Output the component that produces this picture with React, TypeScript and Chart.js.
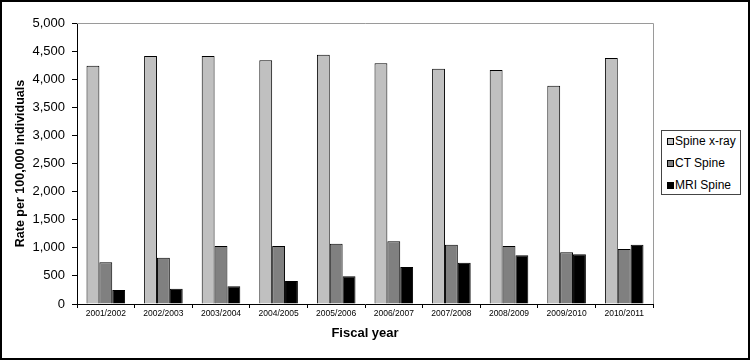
import React, { useEffect, useRef } from "react";
import { Chart, registerables } from "chart.js";

Chart.register(...registerables);

const categories = [
  "2001/2002", "2002/2003", "2003/2004", "2004/2005", "2005/2006",
  "2006/2007", "2007/2008", "2008/2009", "2009/2010", "2010/2011",
];
const spineXray = [4240, 4413, 4413, 4336, 4436, 4283, 4187, 4164, 3885, 4377];
const ctSpine = [742, 824, 1032, 1032, 1073, 1115, 1055, 1032, 920, 979];
const mriSpine = [249, 272, 315, 409, 493, 658, 735, 866, 884, 1055];
const seriesNames = ["Spine x-ray", "CT Spine", "MRI Spine"];
const seriesColors = ["#c0c0c0", "#808080", "#000000"];
const yMin = 0;
const yMax = 5000;
const yStep = 500;
const yTitle = "Rate per 100,000 individuals";
const xTitle = "Fiscal year";

const FONT = "'Liberation Sans', Arial, Helvetica, sans-serif";

const framePlugin = {
  id: "frame",
  afterDraw(chart: any) {
    const { ctx, chartArea } = chart;
    const { left, right, top, bottom } = chartArea;
    ctx.save();
    ctx.strokeStyle = "#9a9a9a";
    ctx.lineWidth = 1;
    ctx.beginPath();
    ctx.moveTo(left, Math.round(top) + 0.5);
    ctx.lineTo(right + 0.5, Math.round(top) + 0.5);
    ctx.lineTo(Math.round(right) + 0.5, bottom);
    ctx.stroke();
    ctx.restore();
  },
};

export default function App() {
  const ref = useRef<HTMLCanvasElement | null>(null);

  useEffect(() => {
    if (!ref.current) return;
    const data = [spineXray, ctSpine, mriSpine];
    const chart = new Chart(ref.current, {
      type: "bar",
      data: {
        labels: categories,
        datasets: data.map((d, i) => ({
          label: seriesNames[i],
          data: d,
          backgroundColor: seriesColors[i],
          borderColor: "#000000",
          borderWidth: 1,
          borderSkipped: "bottom",
          barPercentage: 1,
          categoryPercentage: 0.67,
        })),
      },
      options: {
        animation: false,
        responsive: false,
        devicePixelRatio: 1,
        layout: { padding: { top: 21, right: 95, bottom: 0, left: 0 } },
        plugins: {
          legend: { display: false },
          tooltip: { enabled: false },
        },
        scales: {
          x: {
            grid: {
              display: true,
              drawOnChartArea: false,
              drawTicks: true,
              tickLength: 4,
              color: "#000000",
              offset: true,
            },
            border: { color: "#000000", width: 1 },
            ticks: {
              color: "#000000",
              font: { family: FONT, size: 8.5 },
              padding: 1,
              maxRotation: 0,
              autoSkip: false,
            },
            title: {
              display: true,
              text: xTitle,
              color: "#000000",
              font: { family: FONT, size: 13, weight: "bold" },
              padding: { top: 0, bottom: 17 },
            },
            afterFit(scale: any) {
              scale.height = 54;
            },
          },
          y: {
            min: yMin,
            max: yMax,
            grid: {
              display: true,
              drawOnChartArea: false,
              drawTicks: true,
              tickLength: 5,
              color: "#000000",
            },
            border: { color: "#000000", width: 1 },
            ticks: {
              stepSize: yStep,
              color: "#000000",
              font: { family: FONT, size: 13 },
              padding: 7,
              callback: (v: any) => Number(v).toLocaleString("en-US"),
            },
            title: {
              display: true,
              text: yTitle,
              color: "#000000",
              font: { family: FONT, size: 12.5, weight: "bold" },
              padding: { top: 11.5, bottom: 0 },
            },
            afterFit(scale: any) {
              scale.width = 75;
            },
          },
        },
      },
      plugins: [framePlugin],
    } as any);
    return () => chart.destroy();
  }, []);

  return (
    <div
      style={{
        position: "absolute",
        left: 0,
        top: 0,
        width: 750,
        height: 360,
        boxSizing: "border-box",
        border: "2px solid #000",
        background: "#fff",
      }}
    >
      <canvas ref={ref} width={746} height={356} style={{ display: "block", width: 746, height: 356 }} />
      <div
        style={{
          position: "absolute",
          left: 659,
          top: 128,
          width: 80,
          height: 65,
          boxSizing: "border-box",
          border: "1px solid #444",
          background: "#fff",
          fontFamily: FONT,
          fontSize: 12,
          color: "#000",
        }}
      >
        {seriesNames.map((name, i) => (
          <div
            key={name}
            style={{ position: "absolute", left: 0, top: 3 + i * 22, height: 14, width: 78 }}
          >
            <span
              style={{
                position: "absolute",
                left: 5,
                top: 4,
                width: 7,
                height: 7,
                boxSizing: "border-box",
                border: "1px solid #000",
                background: seriesColors[i],
              }}
            />
            <span style={{ position: "absolute", left: 13, top: 0, lineHeight: "14px", whiteSpace: "nowrap" }}>
              {name}
            </span>
          </div>
        ))}
      </div>
    </div>
  );
}
